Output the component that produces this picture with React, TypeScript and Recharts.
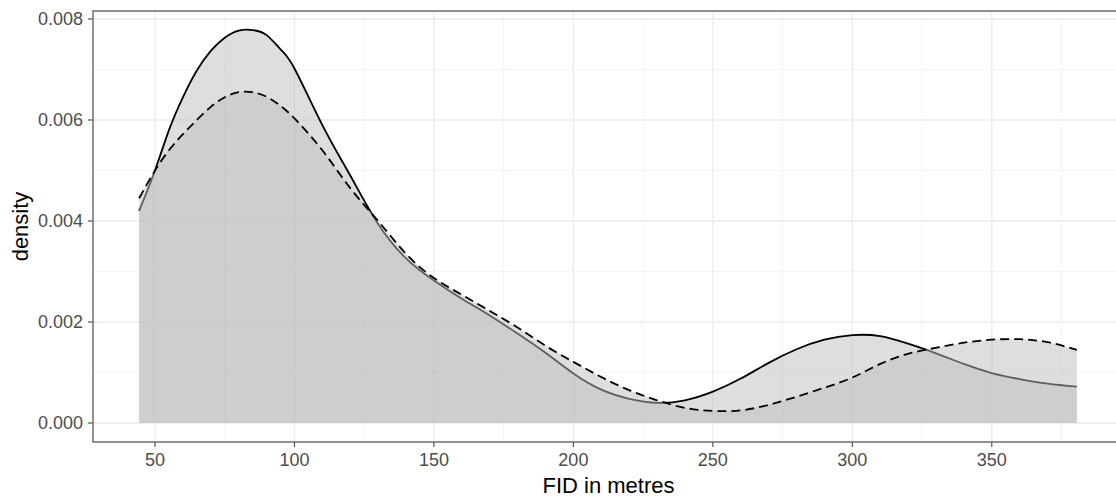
import { ComposedChart, Area, XAxis, YAxis, CartesianGrid, ReferenceArea, Label } from "recharts";

// FID values (metres) where the two density curves were read
const fidX = [
  44.3, 50, 55, 60, 65, 70, 75, 80, 85, 90, 95, 100, 110, 120, 130, 140, 150, 160, 170, 180,
  190, 200, 210, 220, 230, 240, 250, 260, 270, 280, 290, 300, 310, 320, 330, 340, 350, 360, 370, 380.5,
];

// solid outline density
const solidDensity = [
  0.0042, 0.005, 0.0058, 0.00645, 0.00698, 0.00737, 0.00763, 0.00777, 0.00778, 0.00768, 0.0074, 0.00702,
  0.0059, 0.0049, 0.00394, 0.00326, 0.00282, 0.00246, 0.00213, 0.00177, 0.00139, 0.00098, 0.00066,
  0.00048, 0.0004, 0.00045, 0.00062, 0.00088, 0.00119, 0.00146, 0.00165, 0.00174, 0.00172, 0.00157,
  0.00138, 0.00117, 0.00099, 0.00087, 0.00078, 0.00072,
];

// dashed outline density
const dashedDensity = [
  0.00445, 0.005, 0.0054, 0.00572, 0.006, 0.00626, 0.00645, 0.00655, 0.00655, 0.00646, 0.00628, 0.00603,
  0.0054, 0.00465, 0.004, 0.00335, 0.00287, 0.00254, 0.00222, 0.00189, 0.00153, 0.00121, 0.00091,
  0.00065, 0.00045, 0.0003, 0.00024, 0.00025, 0.00036, 0.00052, 0.0007, 0.0009, 0.00117, 0.00137,
  0.00149, 0.00159, 0.00165, 0.00166, 0.0016, 0.00145,
];

const xMajor = [50, 100, 150, 200, 250, 300, 350];
const xMinor = [75, 125, 175, 225, 275, 325, 375];
const yMajor = [0, 0.002, 0.004, 0.006, 0.008];
const yMinor = [0.001, 0.003, 0.005, 0.007];

const X_DOMAIN: [number, number] = [27.77, 397.4];
const Y_DOMAIN: [number, number] = [-0.000376, 0.008158];

const FONT = "'Liberation Sans', Arial, Helvetica, sans-serif";

const rows = fidX.map((x, i) => ({ x, solid: solidDensity[i], dashed: dashedDensity[i] }));

export default function App() {
  return (
    <div
      style={{
        position: "absolute",
        left: 0,
        top: 0,
        width: 1116,
        height: 497,
        overflow: "hidden",
        background: "#fff",
      }}
    >
      <ComposedChart width={1130} height={497} data={rows} margin={{ top: 11, right: 6, bottom: 0, left: 0 }}>
        <CartesianGrid
          stroke="#f2f2f2"
          strokeWidth={0.8}
          verticalValues={xMinor}
          horizontalValues={yMinor}
        />
        <CartesianGrid
          stroke="#ebebeb"
          strokeWidth={1.3}
          verticalValues={xMajor}
          horizontalValues={yMajor}
        />
        <XAxis
          type="number"
          dataKey="x"
          domain={X_DOMAIN}
          allowDataOverflow
          ticks={xMajor}
          height={55}
          axisLine={false}
          tickSize={5}
          tickMargin={6}
          tickLine={{ stroke: "#555", strokeWidth: 1.2 }}
          tick={{ fill: "#4d4d4d", fontSize: 18, fontFamily: FONT }}
        >
          <Label
            content={({ viewBox }: any) => (
              <text
                x={viewBox.x + viewBox.width / 2}
                y={493}
                textAnchor="middle"
                fontSize={22}
                fontFamily={FONT}
                fill="#000"
              >
                FID in metres
              </text>
            )}
          />
        </XAxis>
        <YAxis
          type="number"
          domain={Y_DOMAIN}
          allowDataOverflow
          ticks={yMajor}
          width={93}
          axisLine={false}
          tickSize={5}
          tickMargin={5}
          tickLine={{ stroke: "#555", strokeWidth: 1.2 }}
          tick={{ fill: "#4d4d4d", fontSize: 18, fontFamily: FONT }}
          tickFormatter={(v: number) => v.toFixed(3)}
        >
          <Label
            content={({ viewBox }: any) => {
              const cy = viewBox.y + viewBox.height / 2;
              return (
                <text
                  x={28}
                  y={cy}
                  transform={`rotate(-90, 28, ${cy})`}
                  textAnchor="middle"
                  fontSize={22}
                  fontFamily={FONT}
                  fill="#000"
                >
                  density
                </text>
              );
            }}
          />
        </YAxis>
        <Area
          type="natural"
          dataKey="solid"
          baseValue={0}
          fill="#bebebe"
          fillOpacity={0.5}
          stroke="#000"
          strokeWidth={1.8}
          dot={false}
          activeDot={false}
          isAnimationActive={false}
        />
        <Area
          type="natural"
          dataKey="dashed"
          baseValue={0}
          fill="#bebebe"
          fillOpacity={0.5}
          stroke="#000"
          strokeWidth={1.8}
          strokeDasharray="9 5"
          dot={false}
          activeDot={false}
          isAnimationActive={false}
        />
        <ReferenceArea
          x1={X_DOMAIN[0]}
          x2={X_DOMAIN[1]}
          y1={Y_DOMAIN[0]}
          y2={Y_DOMAIN[1]}
          fill="none"
          stroke="#6e6e6e"
          strokeWidth={1.5}
          ifOverflow="visible"
        />
      </ComposedChart>
    </div>
  );
}
